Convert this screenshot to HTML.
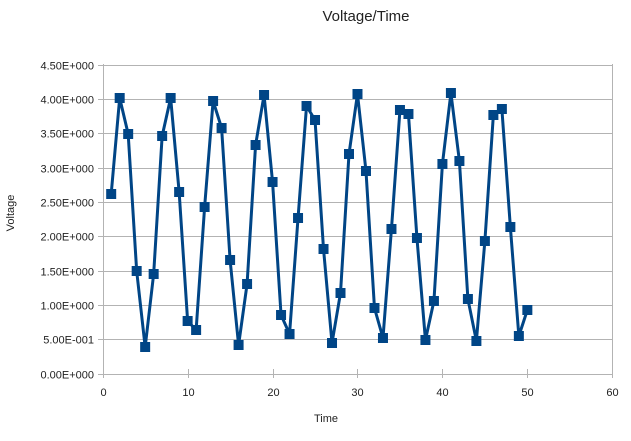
<!DOCTYPE html>
<html><head><meta charset="utf-8"><style>
html,body{margin:0;padding:0;background:#fff;width:631px;height:441px;overflow:hidden}
text{font-family:"Liberation Sans",Arial,sans-serif;fill:#222}
</style></head><body>
<svg id="s" width="631" height="441" xmlns="http://www.w3.org/2000/svg">
<rect width="631" height="441" fill="#fff"/>
<text x="366" y="21" font-size="15" text-anchor="middle">Voltage/Time</text>
<text x="326" y="422" font-size="11" text-anchor="middle">Time</text>
<text transform="translate(14,213) rotate(-90)" font-size="11" text-anchor="middle">Voltage</text>
<g id="grid" stroke="#b3b3b3" stroke-width="1"></g>
<g id="lab" font-size="11"></g>
<polyline id="ln" fill="none" stroke="#004586" stroke-width="3" stroke-linejoin="round"/>
<g id="mk" fill="#004586"></g>
</svg>
<script>
var ys=[194,98,134,271,347,274,136,98,192,321,330,207,101,128,260,345,284,145,95,182,315,334,218,106,120,249,343,293,154,94,171,308,338,229,110,114,238,340,301,164,93,161,299,341,241,115,109,227,336,310];
var NS="http://www.w3.org/2000/svg";
function el(t,a,p){var e=document.createElementNS(NS,t);for(var k in a)e.setAttribute(k,a[k]);document.getElementById(p).appendChild(e);return e;}
var x0=102.7,dx=8.493,y0=373.5,dy=34.33;
var lbl=["0.00E+000","5.00E-001","1.00E+000","1.50E+000","2.00E+000","2.50E+000","3.00E+000","3.50E+000","4.00E+000","4.50E+000"];
for(var i=0;i<10;i++){var y=Math.round(y0-i*dy)+0.5;
el("line",{x1:98,x2:612,y1:y,y2:y},"grid");
var t=el("text",{x:94,y:y+4,"text-anchor":"end"},"lab");t.textContent=lbl[i];}
for(var j=0;j<=6;j++){var x=Math.round(x0+j*10*dx)+0.5;
el("line",{x1:x,x2:x,y1:(j==0||j==6)?64:369,y2:378},"grid");
var t=el("text",{x:x,y:396,"text-anchor":"middle"},"lab");t.textContent=j*10;}
var pts=[];
for(var i=0;i<50;i++){var x=x0+(i+1)*dx;pts.push(x+","+ys[i]);
el("rect",{x:x-5,y:ys[i]-5,width:10,height:10},"mk");}
document.getElementById("ln").setAttribute("points",pts.join(" "));
</script>
</body></html>
